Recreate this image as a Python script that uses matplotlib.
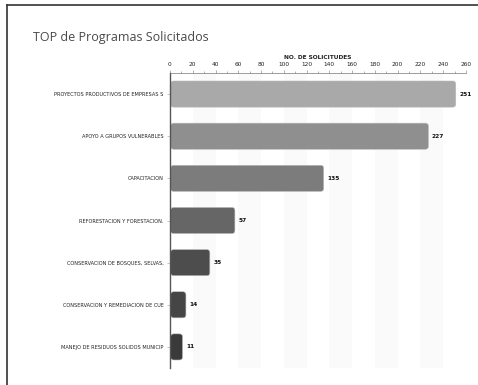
import matplotlib
matplotlib.use("Agg")
import matplotlib.pyplot as plt
from matplotlib.patches import FancyBboxPatch, Rectangle
from matplotlib.ticker import MultipleLocator
import numpy as np

# Datos del grafico
programas = [
    "PROYECTOS PRODUCTIVOS DE EMPRESAS S",
    "APOYO A GRUPOS VULNERABLES",
    "CAPACITACION",
    "REFORESTACION Y FORESTACION.",
    "CONSERVACION DE BOSQUES, SELVAS,",
    "CONSERVACION Y REMEDIACION DE CUE",
    "MANEJO DE RESIDUOS SOLIDOS MUNICIP",
]
solicitudes = [251, 227, 135, 57, 35, 14, 11]
colores = ["#a9a9a9", "#8f8f8f", "#7c7c7c", "#666666", "#4d4d4d", "#454545", "#3a3a3a"]
ticks_x = list(range(0, 261, 20))

fig = plt.figure(figsize=(4.78, 3.85), dpi=100)
fig.patch.set_facecolor("white")

# marco exterior (solo arriba e izquierda)
fig.add_artist(plt.Line2D([6.5 / 478, 6.5 / 478], [0, 1 - 4.5 / 385],
                          transform=fig.transFigure, color="#333333", lw=1.2))
fig.add_artist(plt.Line2D([6.5 / 478, 1], [1 - 4.5 / 385, 1 - 4.5 / 385],
                          transform=fig.transFigure, color="#333333", lw=1.2))

fig.text(33 / 478, 1 - 37 / 385, "TOP de Programas Solicitados", fontsize=9,
         color="#4a4a4a", family="Open Sans", va="center", ha="left")

ax = fig.add_axes([170 / 478, 17 / 385, 296 / 478, 295 / 385])

y = np.arange(len(programas))
ax.set_xlim(0, 260)
ax.set_ylim(len(programas) - 0.5, -0.5)

# franjas de fondo
for x0 in range(20, 260, 40):
    ax.add_patch(Rectangle((x0, -0.5), 20, len(programas), facecolor="#fafafa",
                           edgecolor="none", zorder=0))

h = 0.62
bars = ax.barh(y, solicitudes, height=h, color="none")
for b, c, v in zip(bars, colores, solicitudes):
    x0, y0 = b.get_x(), b.get_y()
    w, hh = b.get_width(), b.get_height()
    r = min(2.8, w / 2)
    ax.add_patch(FancyBboxPatch((x0 + 0.6, y0), w - 0.6, hh,
                                boxstyle=f"round,pad=0,rounding_size={r}",
                                mutation_aspect=0.075 / 2.8,
                                facecolor=c, edgecolor="#bbbbbb", lw=0.4, zorder=2))
    ax.text(v + 3, b.get_y() + hh / 2, str(v), fontsize=4.2, color="#111111",
            va="center", ha="left", weight="bold")

ax.set_yticks(y)
ax.set_yticklabels(programas, fontsize=3.6, color="#222222")
ax.tick_params(axis="y", length=2.5, width=0.4, color="#999999", pad=2)

ax.xaxis.tick_top()
ax.xaxis.set_label_position("top")
ax.set_xticks(ticks_x)
ax.set_xticklabels([str(t) for t in ticks_x], fontsize=4.2, color="#222222")
ax.xaxis.set_minor_locator(MultipleLocator(10))
ax.tick_params(axis="x", which="major", length=2.5, width=0.4, color="#777777", pad=2)
ax.tick_params(axis="x", which="minor", length=1.5, width=0.4, color="#777777")
ax.set_xlabel("NO. DE SOLICITUDES", fontsize=4.2, color="#222222", labelpad=2,
              weight="bold")

for s in ["right", "bottom"]:
    ax.spines[s].set_visible(False)
ax.spines["left"].set_color("#555555")
ax.spines["left"].set_linewidth(1.0)
ax.spines["top"].set_color("#777777")
ax.spines["top"].set_linewidth(0.5)

fig.savefig("out.png", dpi=100)
